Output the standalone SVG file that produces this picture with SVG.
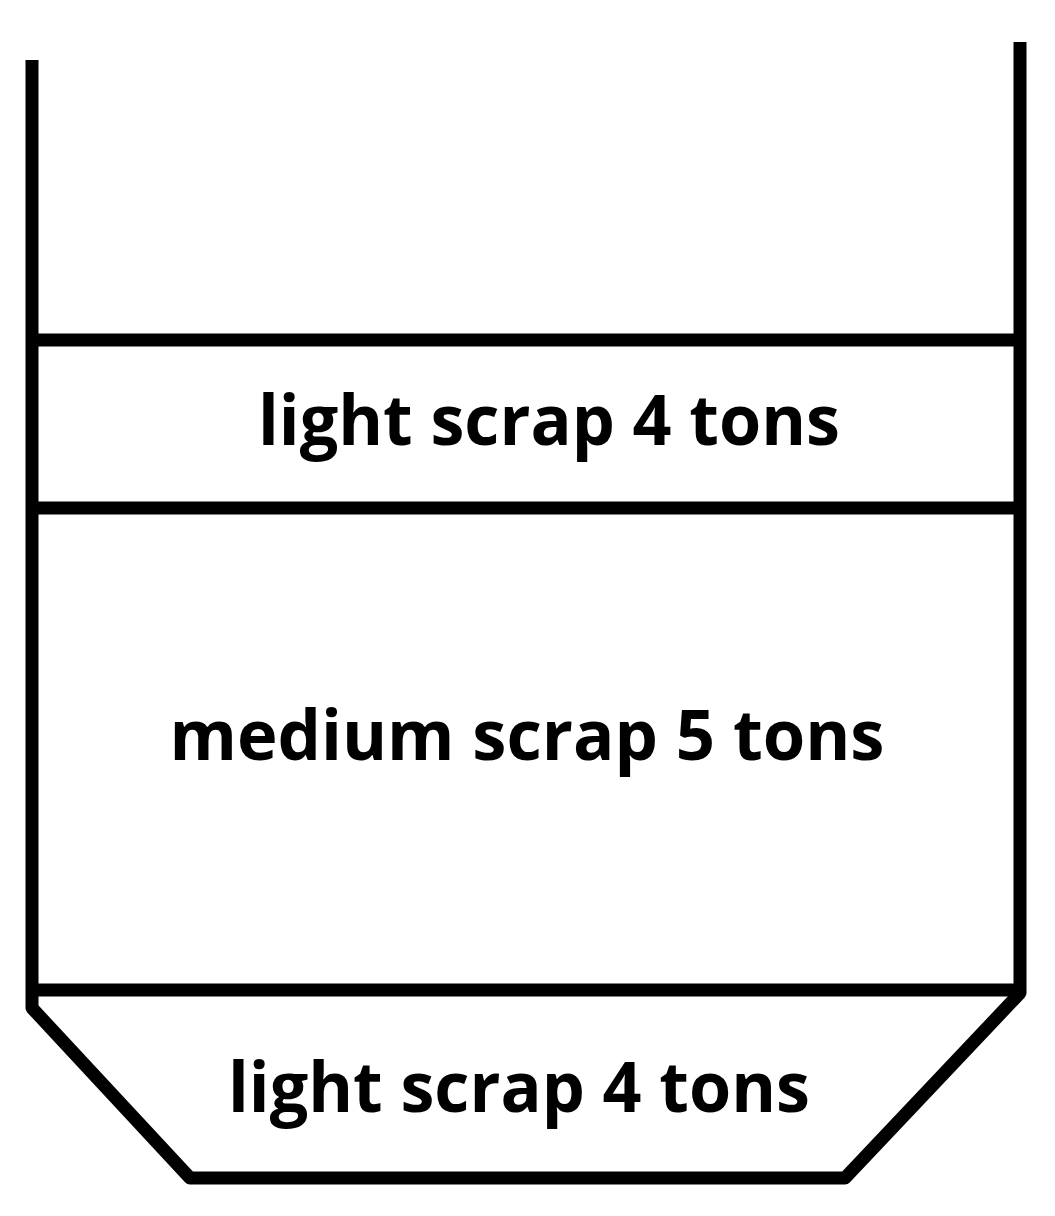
<svg xmlns="http://www.w3.org/2000/svg" width="1055" height="1216" viewBox="0 0 1055 1216">
<style>
.ln{fill:none;stroke:#000;stroke-width:13;stroke-linejoin:round}
.lb{font-family:"Open Sans","Liberation Sans",sans-serif;font-weight:bold;font-size:70px;fill:#000;text-anchor:middle}
</style>
<rect width="1055" height="1216" fill="#fff"/>
<g id="container">
<path class="ln" d="M32,60 L32,1008 L190,1178 L845,1178 L1020,993 L1020,42"/>
<line class="ln" x1="32" y1="340" x2="1020" y2="340"/>
<line class="ln" x1="32" y1="508" x2="1020" y2="508"/>
<line class="ln" x1="32" y1="990" x2="1020" y2="990"/>
</g>
<g id="layer-top"><text class="lb" x="549" y="445" textLength="582" lengthAdjust="spacingAndGlyphs">light scrap 4 tons</text></g>
<g id="layer-middle"><text class="lb" x="527" y="760" textLength="715" lengthAdjust="spacingAndGlyphs">medium scrap 5 tons</text></g>
<g id="layer-bottom"><text class="lb" x="519" y="1112" textLength="582" lengthAdjust="spacingAndGlyphs">light scrap 4 tons</text></g>
</svg>
